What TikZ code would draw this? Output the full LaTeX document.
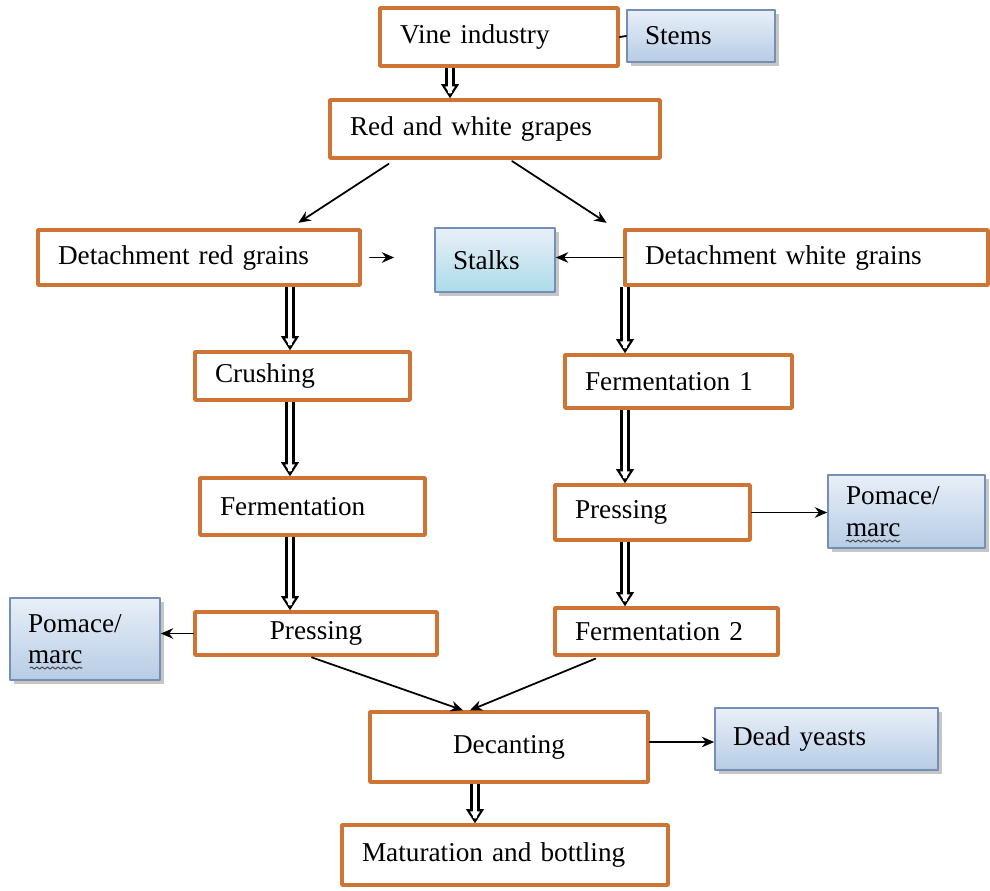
\documentclass[tikz,border=0pt]{standalone}
\usepackage{fontspec}
\setmainfont{Liberation Serif}
\usetikzlibrary{arrows.meta, shadows, positioning, decorations.pathmorphing}
\definecolor{or}{RGB}{206,116,52}
\definecolor{bl}{HTML}{7390B4}
\definecolor{bt}{HTML}{E8EFF8}
\definecolor{bb}{HTML}{B7CCE5}
\definecolor{cb}{HTML}{ACDCE8}

\begin{document}
\begin{tikzpicture}[x=0.02cm, y=-0.02cm, line cap=round, line join=round,
    proc/.style={draw=or, line width=2pt, fill=white, inner xsep=0.4cm, inner ysep=0pt,
        align=left, font=\fontsize{15.5}{19}\selectfont},
    waste/.style={draw=bl, line width=1pt, top color=bt, bottom color=bb,
        drop shadow={shadow xshift=2pt, shadow yshift=-2pt, opacity=0.45},
        inner xsep=0.36cm, inner ysep=0pt, align=left, font=\fontsize{15.5}{18}\selectfont},
    arr/.style={line width=1pt, -{Stealth[length=7pt, width=6pt]}},
    dbl/.style={line cap=butt, line width=5.2pt,
        -{Triangle[open, length=8pt, width=10pt, line width=1.2pt]},
        postaction={draw=white, line width=2.6pt, -, shorten >=3pt}},
    squiggle/.style={draw=black!70, line width=0.6pt, decorate,
        decoration={snake, amplitude=0.6pt, segment length=3pt}}]

    % Page frame (pixel units, y downwards)
    \useasboundingbox (0,0) rectangle (990,890);

    % Top of the chain
    \node[proc, text width=3.96cm, minimum height=1.16cm] (vine) at (499,37) {Vine industry};
    \node[waste, text width=2.24cm, minimum height=1.04cm] (stems) at (701,36) {Stems};
    \node[proc, text width=5.8cm, minimum height=1.16cm] (grapes) at (495,129) {Red and white grapes};

    % Detachment row
    \node[proc, text width=5.64cm, minimum height=1.1cm] (redgr) at (199,257.5) {Detachment red grains};
    \node[waste, bottom color=cb, text width=1.68cm, minimum height=1.28cm] (stalks) at (495,260) {Stalks};
    \node[proc, text width=6.46cm, minimum height=1.1cm] (whitegr) at (806.5,257.5) {Detachment white grains};

    % Red wine branch
    \node[proc, text width=3.5cm, minimum height=0.96cm] (crush) at (302.5,376) {Crushing};
    \node[proc, text width=3.7cm, minimum height=1.14cm] (ferm) at (312.5,506.5) {Fermentation};
    \node[proc, align=center, text width=4.04cm, minimum height=0.86cm] (pressl) at (316,633.5) {Pressing};
    \node[waste, text width=2.28cm, minimum height=1.64cm] (pomacel) at (85,639) {Pomace/\\marc};

    % White wine branch
    \node[proc, text width=3.74cm, minimum height=1.06cm] (fermone) at (678.5,381.5) {Fermentation 1};
    \node[proc, text width=3.1cm, minimum height=1.1cm] (pressr) at (652.5,512.5) {Pressing};
    \node[waste, text width=2.42cm, minimum height=1.46cm] (pomacer) at (906.5,511.5) {Pomace/\\marc};
    \node[proc, text width=3.66cm, minimum height=0.94cm] (fermtwo) at (666.5,631.5) {Fermentation 2};

    % Common end
    \node[proc, align=center, text width=4.76cm, minimum height=1.4cm] (decant) at (509,747) {Decanting};
    \node[waste, text width=3.74cm, minimum height=1.24cm] (dead) at (826.5,739) {Dead yeasts};
    \node[proc, text width=5.72cm, minimum height=1.2cm] (matur) at (505,855) {Maturation and bottling};

    % Spelling squiggles under marc
    \draw[squiggle] (30,668) -- (82,668);
    \draw[squiggle] (846,541) -- (900,541);

    % Hollow double arrows
    \draw[dbl] (vine.south -| 450,0) -- (grapes.north -| 450,0);
    \draw[dbl] (redgr.south -| 290,0) -- (crush.north -| 290,0);
    \draw[dbl] (crush.south -| 290,0) -- (ferm.north -| 290,0);
    \draw[dbl] (ferm.south -| 290,0) -- (pressl.north -| 290,0);
    \draw[dbl] (whitegr.south -| 625,0) -- (fermone.north -| 625,0);
    \draw[dbl] (fermone.south -| 625,0) -- (pressr.north -| 625,0);
    \draw[dbl] (pressr.south -| 625,0) -- (fermtwo.north -| 625,0);
    \draw[dbl] (decant.south -| 475,0) -- (matur.north -| 475,0);

    % Single arrows
    \draw[line width=1pt] (vine.east) -- (stems.west);
    \draw[arr, shorten <=0.15cm, shorten >=0.2cm] (grapes.south -| 395,0) -- (redgr.north -| 290,0);
    \draw[arr, shorten <=0.05cm, shorten >=0.2cm] (grapes.south -| 510,0) -- (whitegr.north -| 615,0);
    \draw[arr, shorten <=0.16cm, shorten >=0.8cm] (redgr.east) -- (redgr.east -| stalks.west);
    \draw[arr] (whitegr.west) -- (whitegr.west -| stalks.east);
    \draw[arr] (pressl.west) -- (pressl.west -| pomacel.east);
    \draw[arr] (pressr.east) -- (pressr.east -| pomacer.west);
    \draw[arr, shorten <=0.04cm] (pressl.south -| 310,0) -- (decant.north -| 463,0);
    \draw[arr, shorten <=0.1cm] (fermtwo.south -| 600,0) -- (decant.north -| 470,0);
    \draw[arr] (decant.east |- 0,742) -- (dead.west |- 0,742);

\end{tikzpicture}
\end{document}
